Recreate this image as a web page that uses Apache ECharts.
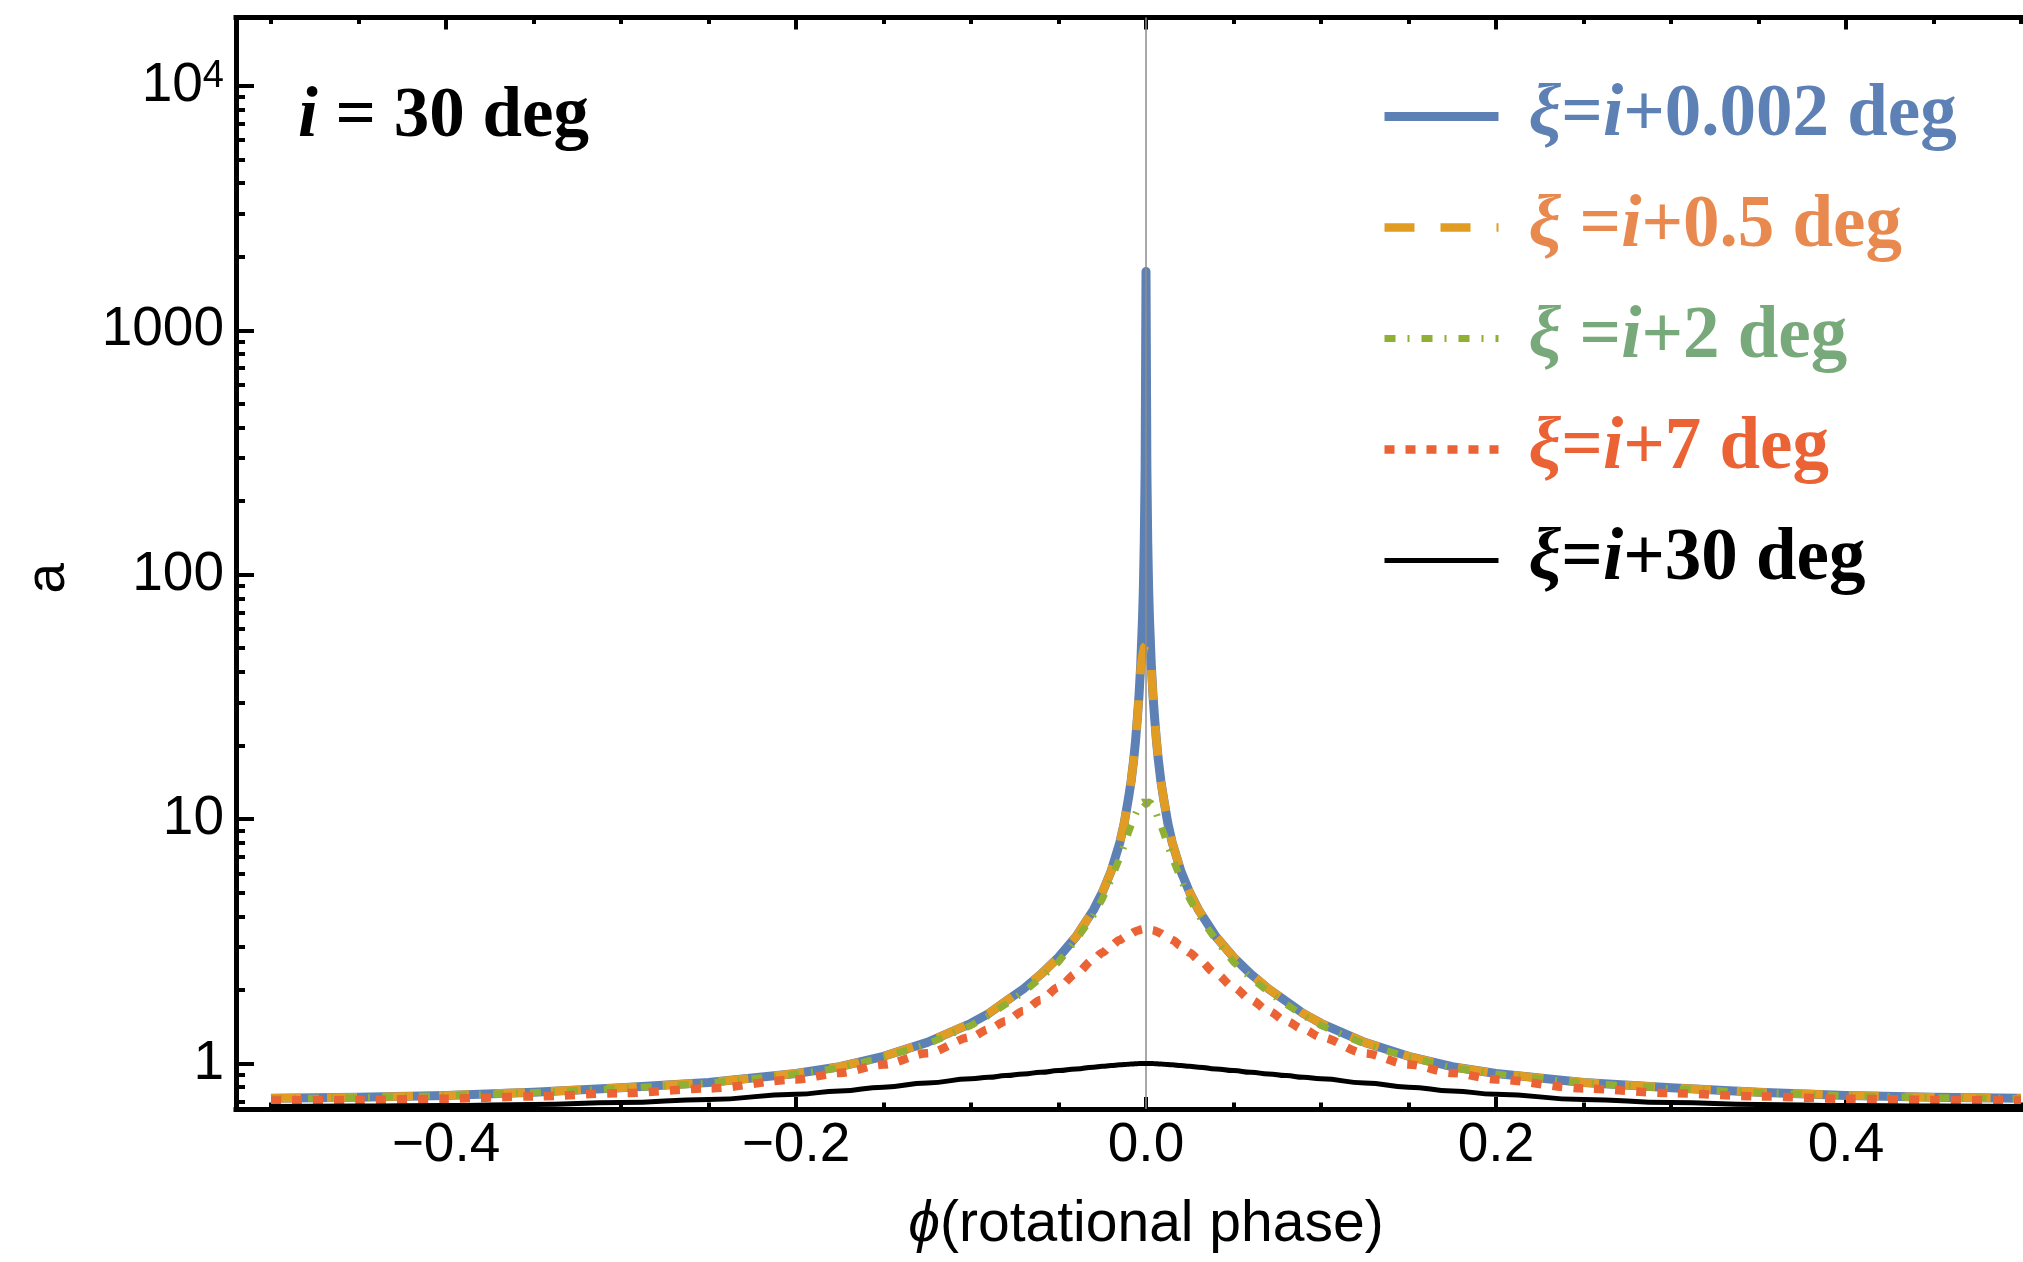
<!DOCTYPE html>
<html>
<head>
<meta charset="utf-8">
<style>html,body{margin:0;padding:0;background:#fff}#c{width:2023px;height:1262px}</style>
<script src="https://cdn.jsdelivr.net/npm/echarts@6/dist/echarts.min.js"></script>
</head>
<body>
<div id="c"></div>
<script>
// ---------- data ----------
const phi = [-0.5,-0.45,-0.4,-0.35,-0.3,-0.25,-0.2,-0.175,-0.15,-0.125,-0.1,-0.09,-0.08,-0.07,-0.06,-0.05,-0.04,-0.03,-0.025,-0.02,-0.015,-0.0125,-0.01,-0.0085,-0.007,-0.006,-0.005,-0.004,-0.003,-0.002,-0.0015,-0.001,-0.0005,
  0,
  0.0005,0.001,0.0015,0.002,0.003,0.004,0.005,0.006,0.007,0.0085,0.01,0.0125,0.015,0.02,0.025,0.03,0.04,0.05,0.06,0.07,0.08,0.09,0.1,0.125,0.15,0.175,0.2,0.25,0.3,0.35,0.4,0.45,0.5];

const aXi0002 = [0.72,0.727,0.74,0.763,0.795,0.835,0.91,0.97,1.07,1.22,1.46,1.6,1.8,2.02,2.32,2.72,3.3,4.25,5.0,6.1,8.0,9.6,12.2,14.3,17.6,20.8,25.5,32,43,66,88,135,270,
  1740,
  270,135,88,66,43,32,25.5,20.8,17.6,14.3,12.2,9.6,8.0,6.1,5.0,4.25,3.3,2.72,2.32,2.02,1.8,1.6,1.46,1.22,1.07,0.97,0.91,0.835,0.795,0.763,0.74,0.727,0.72];

const aXi05 = [0.72,0.727,0.74,0.763,0.795,0.835,0.91,0.97,1.07,1.22,1.46,1.6,1.8,2.02,2.32,2.72,3.3,4.25,5.0,6.1,8.0,9.6,12.2,14.3,17.6,20.8,25.5,32,42,47,49,50.5,51.2,
  51.5,
  51.2,50.5,49,47,42,32,25.5,20.8,17.6,14.3,12.2,9.6,8.0,6.1,5.0,4.25,3.3,2.72,2.32,2.02,1.8,1.6,1.46,1.22,1.07,0.97,0.91,0.835,0.795,0.763,0.74,0.727,0.72];

const aXi2 = [0.718,0.725,0.738,0.76,0.79,0.83,0.905,0.96,1.06,1.2,1.43,1.57,1.75,1.96,2.24,2.6,3.2,4.05,4.7,5.65,6.95,7.8,8.8,9.4,10.0,10.5,10.9,11.3,11.6,11.75,11.75,11.7,11.6,
  11.5,
  11.6,11.7,11.75,11.75,11.6,11.3,10.9,10.5,10.0,9.4,8.8,7.8,6.95,5.65,4.7,4.05,3.2,2.6,2.24,1.96,1.75,1.57,1.43,1.2,1.06,0.96,0.905,0.83,0.79,0.76,0.738,0.725,0.718];

const aXi7 = [0.705,0.709,0.717,0.733,0.756,0.79,0.86,0.915,0.99,1.1,1.28,1.38,1.49,1.64,1.82,2.05,2.33,2.66,2.84,3.03,3.2,3.28,3.36,3.4,3.44,3.47,3.49,3.51,3.53,3.54,3.545,3.55,3.55,
  3.55,
  3.55,3.55,3.545,3.54,3.53,3.51,3.49,3.47,3.44,3.4,3.36,3.28,3.2,3.03,2.84,2.66,2.33,2.05,1.82,1.64,1.49,1.38,1.28,1.1,0.99,0.915,0.86,0.79,0.756,0.733,0.717,0.709,0.705];

const aXi30 = [0.667,0.669,0.673,0.68,0.692,0.712,0.748,0.772,0.8,0.832,0.865,0.878,0.892,0.906,0.92,0.935,0.95,0.966,0.973,0.98,0.987,0.99,0.993,0.995,0.996,0.997,0.998,0.999,1,1,1,1,1,
  1,
  1,1,1,1,1,0.999,0.998,0.997,0.996,0.995,0.993,0.99,0.987,0.98,0.973,0.966,0.95,0.935,0.92,0.906,0.892,0.878,0.865,0.832,0.8,0.772,0.748,0.712,0.692,0.68,0.673,0.669,0.667];

const seriesNames = ['ξ=i+0.002 deg', 'ξ =i+0.5 deg', 'ξ =i+2 deg', 'ξ=i+7 deg', 'ξ=i+30 deg'];

const xMajorTicks = [-0.4, -0.2, 0, 0.2, 0.4];
const xMinorTicks = [-0.5,-0.45,-0.35,-0.3,-0.25,-0.15,-0.1,-0.05,0.05,0.1,0.15,0.25,0.3,0.35,0.45,0.5];
const yMajorTicks = [1, 10, 100, 1000, 10000];
const yMinorTicks = [0.7,0.8,0.9,2,3,4,5,6,7,8,9,20,30,40,50,60,70,80,90,200,300,400,500,600,700,800,900,2000,3000,4000,5000,6000,7000,8000,9000];

// ---------- styling ----------
const SANS = 'Liberation Sans';
const SERIF = 'Liberation Serif';
const lineColors = ['#5E81B5', '#E19C24', '#8FB032', '#EB6235', '#000000'];
const textColors = ['#5E81B5', '#E8894F', '#77A97A', '#EB6235', '#000000'];
const lineWidths = [9, 8.5, 7, 8.5, 5];
const lineTypes = ['solid', [30, 26], [11, 12, 2, 12], [10, 11], 'solid'];
const smoothing = [false, false, false, 0.3, 0.5];
const keys = ['b', 'o', 'g', 'r', 'k'];

const pairs = v => phi.map((p, i) => [p, v[i]]);
const valuesList = [aXi0002, aXi05, aXi2, aXi7, aXi30];

const LEG_FS = 73;
const rich = {};
keys.forEach((k, i) => {
  const base = {color: textColors[i], fontFamily: SERIF, fontWeight: 'bold', fontSize: LEG_FS, lineHeight: LEG_FS};
  rich[k + 'sp'] = Object.assign({}, base, {width: 25});
  rich[k + 'x'] = Object.assign({}, base, {fontStyle: 'italic'});
  rich[k + 'i'] = Object.assign({}, base, {fontStyle: 'italic'});
  rich[k + 'n'] = Object.assign({}, base);
});

function legendFormatter(name) {
  const idx = seriesNames.indexOf(name);
  const k = keys[idx];
  const m = name.match(/^ξ( ?)=i(.*)$/);
  return '{' + k + 'sp| }{' + k + 'x|ξ}{' + k + 'n|' + m[1] + '=}{' + k + 'i|i}{' + k + 'n|' + m[2] + '}';
}

const xRange = {min: -0.52, max: 0.52};
const yRange = {min: 0.6511, max: 19050};
const axisLineStyle = {color: '#000', width: 5, cap: 'square'};
const tickLineStyle = {color: '#000', width: 4};

function xAxisDef(pos, ticks, len, showLine, extra) {
  return Object.assign({
    type: 'value', position: pos, min: xRange.min, max: xRange.max, gridIndex: 0,
    axisLine: {show: showLine, onZero: false, lineStyle: axisLineStyle},
    axisTick: {show: true, inside: true, length: len, customValues: ticks, lineStyle: tickLineStyle},
    axisLabel: {show: false},
    splitLine: {show: false}, minorTick: {show: false}
  }, extra || {});
}
function yAxisDef(pos, ticks, len, showLine, extra) {
  return Object.assign({
    type: 'log', logBase: 10, position: pos, min: yRange.min, max: yRange.max, gridIndex: 0,
    axisLine: {show: showLine, onZero: false, lineStyle: axisLineStyle},
    axisTick: {show: true, inside: true, length: len, customValues: ticks, lineStyle: tickLineStyle},
    axisLabel: {show: false},
    splitLine: {show: false}, minorTick: {show: false}
  }, extra || {});
}

const option = {
  backgroundColor: '#fff',
  animation: false,
  grid: {left: 236, top: 17.5, right: -33, bottom: 153, outerBoundsMode: 'none', containLabel: false},
  title: {
    text: '{it|i}{n| = 30 deg}', left: 298, top: 82, padding: 0,
    textStyle: {rich: {
      it: {fontFamily: SERIF, fontWeight: 'bold', fontStyle: 'italic', fontSize: 71, lineHeight: 71, color: '#000'},
      n: {fontFamily: SERIF, fontWeight: 'bold', fontSize: 71, lineHeight: 71, color: '#000'}
    }}
  },
  legend: {
    orient: 'vertical', left: 1380, top: 80, padding: 0,
    itemWidth: 114, itemHeight: 14, itemGap: 111 - LEG_FS,
    selectedMode: false,
    itemStyle: {opacity: 0},
    lineStyle: {width: 'inherit', type: 'inherit'},
    data: seriesNames.map(n => ({name: n})),
    formatter: legendFormatter,
    textStyle: {rich: rich}
  },
  xAxis: [
    xAxisDef('bottom', xMajorTicks, 12, true, {
      axisLabel: {
        show: true, customValues: xMajorTicks, margin: 9,
        fontFamily: SANS, fontSize: 55, color: '#000',
        formatter: v => (Math.abs(v) < 1e-9 ? '0.0' : (v < 0 ? '\u2212' : '') + Math.abs(v).toFixed(1))
      },
      name: '{it|ϕ}{n|(rotational phase)}', nameLocation: 'middle', nameGap: 86,
      nameTextStyle: {rich: {
        it: {fontFamily: SANS, fontStyle: 'italic', fontSize: 57, lineHeight: 60, color: '#000'},
        n: {fontFamily: SANS, fontSize: 57, lineHeight: 60, color: '#000'}
      }}
    }),
    xAxisDef('bottom', xMinorTicks, 6.5, false),
    xAxisDef('top', xMajorTicks, 12, true),
    xAxisDef('top', xMinorTicks, 6.5, false)
  ],
  yAxis: [
    yAxisDef('left', yMajorTicks, 18, true, {
      axisLabel: {
        show: true, customValues: yMajorTicks, margin: 12,
        formatter: v => {
          const r = Math.round(v);
          if (r === 10000) return '{b|10}{s|4}';
          return '{b|' + r + '}';
        },
        rich: {
          b: {fontFamily: SANS, fontSize: 55, lineHeight: 56, color: '#000'},
          s: {fontFamily: SANS, fontSize: 38, lineHeight: 20, verticalAlign: 'top', color: '#000'}
        }
      },
      name: 'a', nameLocation: 'middle', nameGap: 160, nameRotate: 90,
      nameTextStyle: {fontFamily: SANS, fontSize: 55, color: '#000', padding: [0, 30, 0, 0]}
    }),
    yAxisDef('left', yMinorTicks, 9, false)
  ],
  series: valuesList.map((vals, i) => {
    const s = {
      name: seriesNames[i], type: 'line', xAxisIndex: 0, yAxisIndex: 0,
      data: pairs(vals), showSymbol: false, symbol: 'none',
      smooth: smoothing[i], smoothMonotone: 'x',
      lineStyle: {color: lineColors[i], width: lineWidths[i], type: lineTypes[i], cap: 'butt', join: 'round'},
      itemStyle: {color: lineColors[i]},
      z: 2 + i, silent: true, animation: false
    };
    if (i === valuesList.length - 1) {
      s.markLine = {
        silent: true, symbol: ['none', 'none'], animation: false,
        label: {show: false},
        lineStyle: {color: '#8c8c8c', width: 1.5, type: 'solid'},
        data: [{xAxis: 0}]
      };
    }
    return s;
  })
};

const chart = echarts.init(document.getElementById('c'), null, {renderer: 'canvas'});
chart.setOption(option);
</script>
</body>
</html>
